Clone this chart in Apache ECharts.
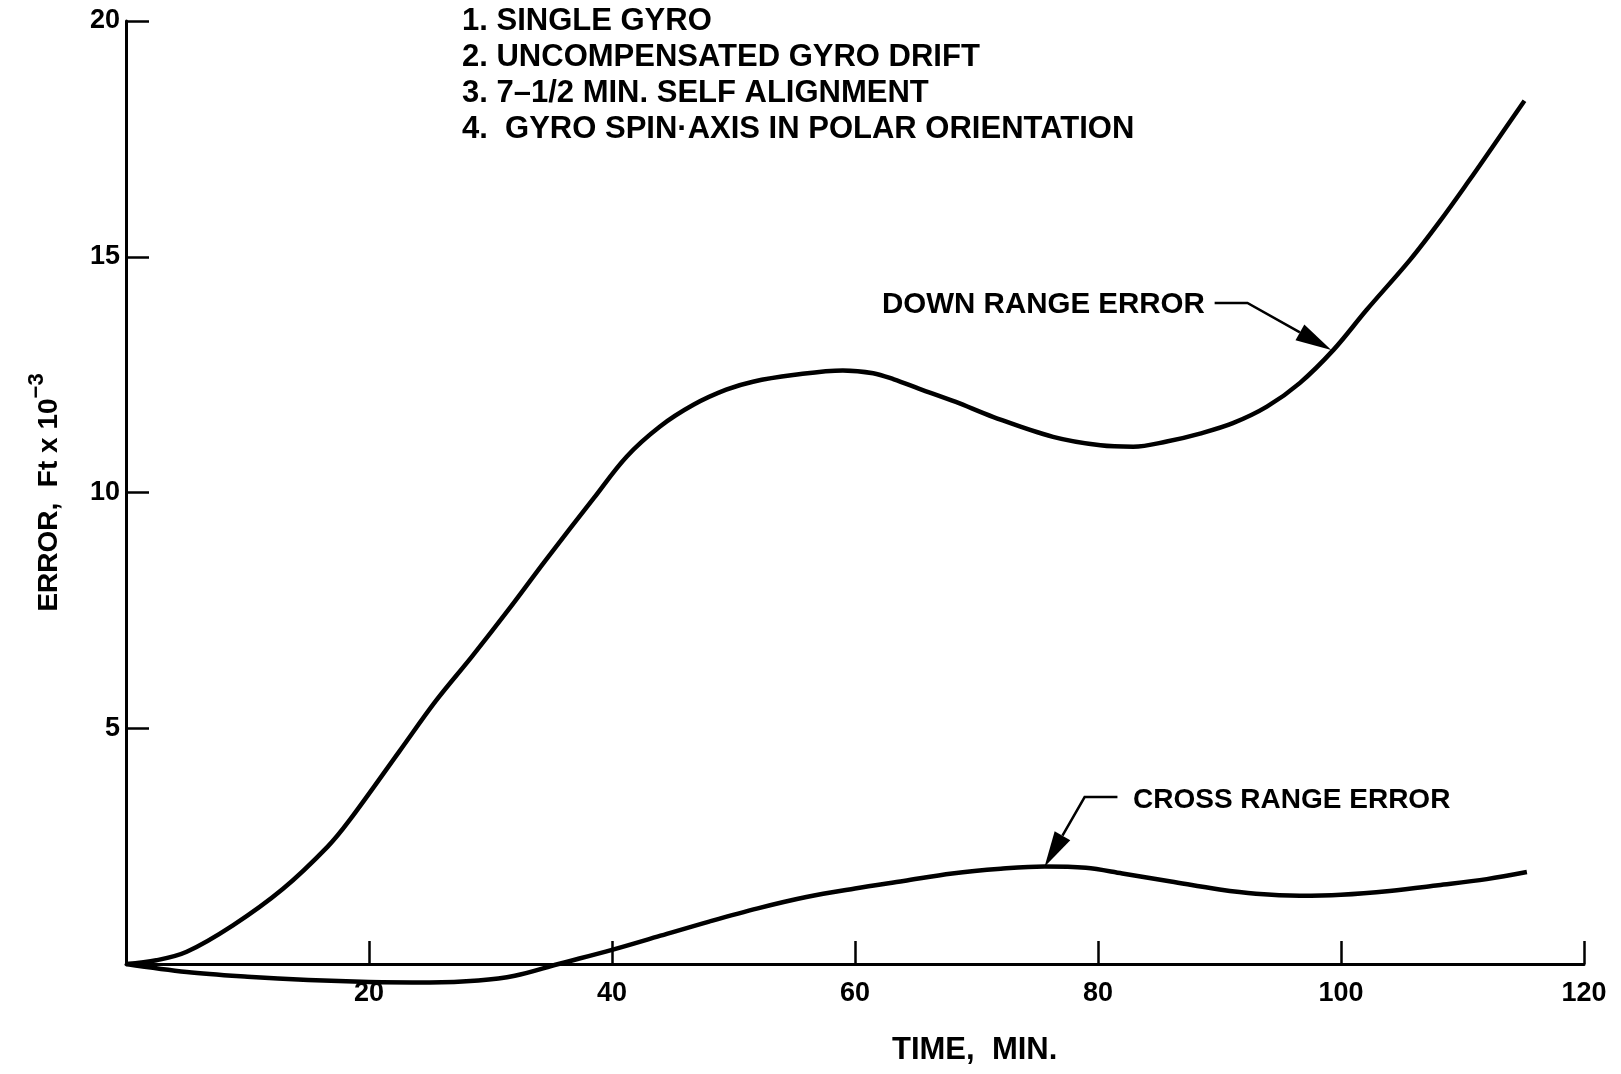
<!DOCTYPE html>
<html>
<head>
<meta charset="utf-8">
<title>Error vs time</title>
<script src="https://cdn.jsdelivr.net/npm/echarts@6/dist/echarts.min.js"></script>
<style>
  html, body { margin: 0; padding: 0; background: #fff; }
  #chart { width: 1621px; height: 1074px; }
</style>
</head>
<body>
<div id="chart"></div>
<script>
/* Data (time in min, error in ft x 10^-3). */
var down_range_time  = [0, 2.5, 5, 8.8, 12.9, 16.6, 18.4, 22.5, 25.5, 28.5, 31.5, 34.5, 38.5, 41.2, 43.95, 46.7, 49.4, 51.6, 54.9, 59, 61.5, 63.2, 65.3, 68.3, 71.4, 76.3, 80.2, 82.9, 85.65, 88.4, 91.1, 93.9, 96.6, 99.4, 102.1, 105.7, 108.1, 110.5, 112.5, 115.1];
var down_range_error = [0, 0.08, 0.26, 0.82, 1.59, 2.49, 3.05, 4.51, 5.58, 6.53, 7.52, 8.55, 9.88, 10.76, 11.4, 11.86, 12.18, 12.35, 12.49, 12.59, 12.53, 12.4, 12.2, 11.92, 11.6, 11.18, 11.0, 10.97, 11.08, 11.25, 11.47, 11.82, 12.32, 13.03, 13.87, 14.94, 15.74, 16.6, 17.34, 18.31];

var cross_range_time  = [0, 5, 10, 15, 20, 25, 29, 32, 35.6, 40, 44, 48, 52, 56, 60, 64, 68, 72, 75.6, 79, 82, 86, 90, 93, 96.6, 100, 104, 108, 112, 115.3];
var cross_range_error = [0, -0.17, -0.27, -0.34, -0.38, -0.39, -0.35, -0.25, 0, 0.3, 0.6, 0.9, 1.18, 1.42, 1.6, 1.76, 1.92, 2.02, 2.07, 2.04, 1.92, 1.75, 1.58, 1.49, 1.45, 1.47, 1.55, 1.67, 1.8, 1.95];

var x_ticks = [0, 20, 40, 60, 80, 100, 120];
var y_ticks = [0, 5, 10, 15, 20];

var notes = [
    '1. SINGLE GYRO',
    '2. UNCOMPENSATED GYRO DRIFT',
    '3. 7\u20131/2 MIN. SELF ALIGNMENT',
    '4.  GYRO SPIN\u00b7AXIS IN POLAR ORIENTATION'
];

/* Leader lines: [text end, bend, arrow tip] in data coords. */
var down_leader  = [[89.6, 14.02], [92.3, 14.02], [99.2, 13.02]];
var cross_leader = [[81.6, 3.54], [78.9, 3.54], [75.6, 2.06]];

var font = '"Liberation Sans", Arial, sans-serif';

function pairs(xs, ys) {
    var out = [];
    for (var i = 0; i < xs.length; i++) out.push([xs[i], ys[i]]);
    return out;
}

var chart = echarts.init(document.getElementById('chart'));

var options = {
    animation: false,
    backgroundColor: '#fff',
    grid: { left: 126, right: 37, top: 21, bottom: 110, containLabel: false },
    xAxis: {
        type: 'value',
        min: x_ticks[0],
        max: x_ticks[x_ticks.length - 1],
        interval: 20,
        axisLine: { show: true, onZero: false, lineStyle: { color: '#000', width: 3 } },
        axisTick: { show: true, inside: true, length: 23, lineStyle: { color: '#000', width: 2.5 } },
        splitLine: { show: false },
        axisLabel: {
            margin: 16,
            color: '#000',
            fontSize: 27,
            fontWeight: 'bold',
            fontFamily: font,
            formatter: function (v) { return v === 0 ? '' : String(v); }
        }
    },
    yAxis: {
        type: 'value',
        min: y_ticks[0],
        max: y_ticks[y_ticks.length - 1],
        interval: 5,
        axisLine: { show: true, lineStyle: { color: '#000', width: 3 } },
        axisTick: { show: true, inside: true, length: 23, lineStyle: { color: '#000', width: 2.5 } },
        splitLine: { show: false },
        axisLabel: {
            margin: 6,
            color: '#000',
            fontSize: 27,
            fontWeight: 'bold',
            fontFamily: font,
            formatter: function (v) { return v === 0 ? '' : String(v); }
        },
        name: '{m|ERROR,  Ft x 10}{s|\u22123}',
        nameLocation: 'middle',
        nameRotate: 90,
        nameGap: 54,
        nameTextStyle: {
            rich: {
                m: { fontSize: 28, fontWeight: 'bold', fontFamily: font, color: '#000', lineHeight: 46 },
                s: { fontSize: 22, fontWeight: 'bold', fontFamily: font, color: '#000', lineHeight: 46, verticalAlign: 'top' }
            }
        }
    },
    series: [
        {
            name: 'DOWN RANGE ERROR',
            type: 'line',
            smooth: 0.35,
            clip: false,
            showSymbol: false,
            lineStyle: { color: '#000', width: 4.5 },
            data: pairs(down_range_time, down_range_error)
        },
        {
            name: 'CROSS RANGE ERROR',
            type: 'line',
            smooth: 0.35,
            clip: false,
            showSymbol: false,
            lineStyle: { color: '#000', width: 4.5 },
            data: pairs(cross_range_time, cross_range_error)
        }
    ]
};

chart.setOption(options);

/* Annotations: leader lines with filled arrowheads, placed via the chart's scales. */
function leader(points) {
    var px = points.map(function (p) { return chart.convertToPixel({ gridIndex: 0 }, p); });
    var a = px[px.length - 2], t = px[px.length - 1];
    var dx = t[0] - a[0], dy = t[1] - a[1];
    var len = Math.sqrt(dx * dx + dy * dy);
    dx /= len; dy /= len;
    var head = 36, half = 9;
    var b = [t[0] - dx * head, t[1] - dy * head];
    var line = px.slice(0, px.length - 1).concat([b]);
    return [
        { type: 'polyline', shape: { points: line }, style: { stroke: '#000', lineWidth: 2.5, fill: null } },
        { type: 'polygon', shape: { points: [t, [b[0] - dy * half, b[1] + dx * half], [b[0] + dy * half, b[1] - dx * half]] }, style: { fill: '#000' } }
    ];
}

var graphics = [];
notes.forEach(function (txt, i) {
    graphics.push({
        type: 'text', left: 462, top: 6 + i * 36,
        style: { text: txt, fontSize: 31, fontWeight: 'bold', fontFamily: font, fill: '#000' }
    });
});
graphics.push({ type: 'text', left: 882, top: 290, style: { text: 'DOWN RANGE ERROR', fontSize: 29.5, fontWeight: 'bold', fontFamily: font, fill: '#000' } });
graphics.push({ type: 'text', left: 1133, top: 786, style: { text: 'CROSS RANGE ERROR', fontSize: 28, fontWeight: 'bold', fontFamily: font, fill: '#000' } });
graphics.push({ type: 'text', left: 892, top: 1035, style: { text: 'TIME,  MIN.', fontSize: 31, fontWeight: 'bold', fontFamily: font, fill: '#000' } });
graphics = graphics.concat(leader(down_leader), leader(cross_leader));

chart.setOption({ graphic: graphics });
</script>
</body>
</html>
